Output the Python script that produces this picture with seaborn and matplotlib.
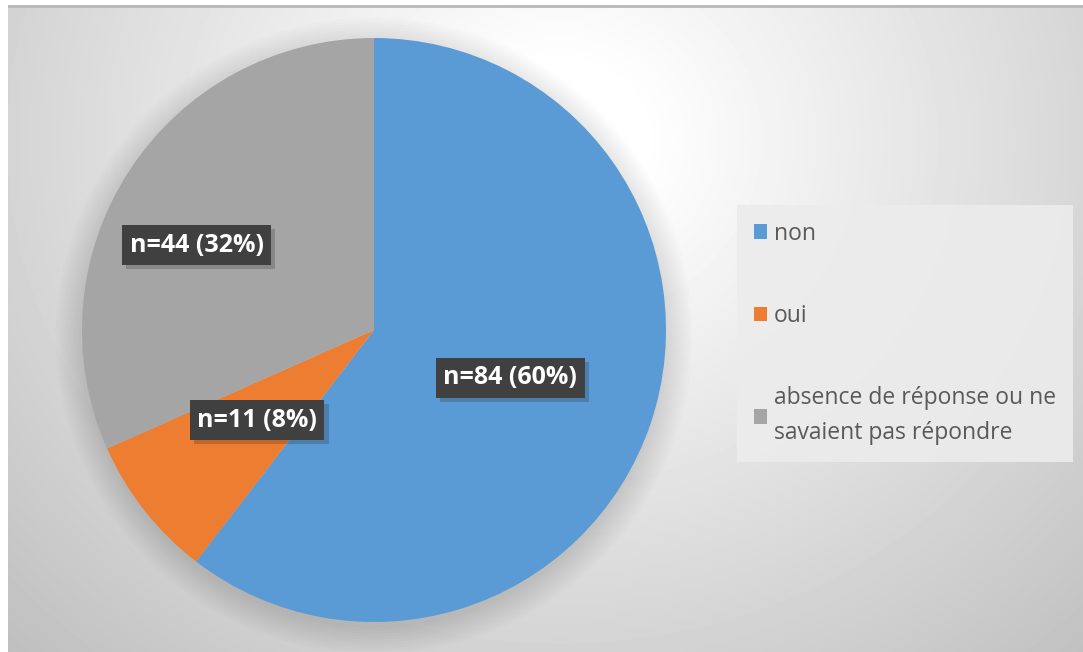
import numpy as np
import matplotlib
matplotlib.use('Agg')
import matplotlib.pyplot as plt
import matplotlib.patheffects as pe
import seaborn as sns

# Data
categories = ['non', 'oui', 'absence de réponse ou ne\nsavaient pas répondre']
counts = [84, 11, 44]
colors = ['#5B9BD5', '#ED7D31', '#A5A5A5']

sns.set_style('white')
plt.rcParams['font.family'] = ['Open Sans', 'DejaVu Sans']

W, H = 1083, 652
fig = plt.figure(figsize=(W / 100, H / 100), dpi=100)

# chart area background: radial gradient, white near top centre
bg = fig.add_axes([8 / W, 0, 1 - 8 / W, 1 - 5 / H])
yy, xx = np.mgrid[5:H, 8:W]
d = np.hypot(xx - 560, (yy - 140) * 1.1)
shade = np.clip(1.0 - 0.22 * np.clip((d - 80) / 620, 0, 1.15), 0, 1)
bg.imshow(shade, cmap='gray', vmin=0, vmax=1, aspect='auto',
          extent=[8, W, H, 5], interpolation='bilinear')
bg.axhline(5.5, color='#b8b8b8', lw=2)
bg.set_xlim(8, W)
bg.set_ylim(H, 5)
bg.axis('off')

# pie
cx, cy, r = 374, 330, 292
ax = fig.add_axes([(cx - r) / W, (H - cy - r) / H, 2 * r / W, 2 * r / H])
ax.set_aspect('equal')

# soft shadow round the pie
for k in range(10):
    ax.add_patch(plt.Circle((0.0, -0.02), 1.0 + 0.01 * k, color='black',
                            alpha=0.012, lw=0, zorder=0, clip_on=False))

wedges, _ = ax.pie(counts, colors=colors, startangle=90, counterclock=False,
                   radius=1.0, wedgeprops=dict(linewidth=0))
ax.set_xlim(-1, 1)
ax.set_ylim(-1, 1)
ax.axis('off')

total = sum(counts)
label_r = [0.495, 0.506, 0.673]
label_da = [-0.6, -0.6, 7.4]
for w, n, lr, da in zip(wedges, counts, label_r, label_da):
    mid = np.deg2rad((w.theta1 + w.theta2) / 2 + da)
    x, y = lr * np.cos(mid), lr * np.sin(mid)
    t = ax.text(x, y, f'n={n} ({n / total:.0%})', ha='center', va='center',
                color='white', fontsize=18, fontweight='bold', zorder=5,
                bbox=dict(boxstyle='square,pad=0.3', fc='#404040', ec='none'))
    t.get_bbox_patch().set_path_effects(
        [pe.SimplePatchShadow(offset=(3, -3), shadow_rgbFace='black', alpha=0.18),
         pe.Normal()])

# legend
leg = ax.legend(wedges, categories, loc='upper left',
                bbox_to_anchor=(737 / W, 1 - 205 / H), bbox_transform=fig.transFigure,
                frameon=True, fancybox=False, fontsize=16.5, labelspacing=2.55,
                handlelength=0.6, handleheight=0.6, handletextpad=0.3,
                borderpad=0.72, borderaxespad=0)
frame = leg.get_frame()
frame.set_facecolor('#ececec')
frame.set_edgecolor('none')
frame.set_alpha(0.9)
for txt in leg.get_texts():
    txt.set_color('#595959')
    txt.set_linespacing(1.6)

fig.savefig('out.png', dpi=100, facecolor='white')
